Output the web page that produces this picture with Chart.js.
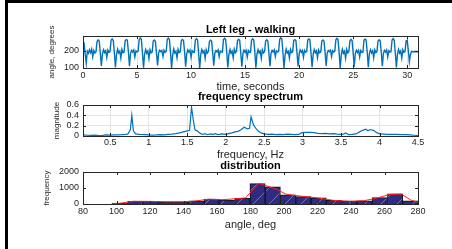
<!DOCTYPE html>
<html>
<head>
<meta charset="utf-8">
<script src="https://cdn.jsdelivr.net/npm/chart.js@4.4.1/dist/chart.umd.min.js"></script>
<style>
  body { margin: 0; background: #fff; width: 452px; height: 249px; overflow: hidden; position: relative; }
  canvas { position: absolute; left: 10px; }
  .edge { position: absolute; background: #000; }
</style>
</head>
<body>
<div class="edge" style="left:5px;top:0;width:447px;height:3px"></div>
<div class="edge" style="left:5px;top:0;width:3px;height:249px"></div>
<canvas id="legChart" width="430" height="80" style="top:15px"></canvas>
<canvas id="specChart" width="430" height="75" style="top:88px"></canvas>
<canvas id="distChart" width="430" height="76" style="top:159px"></canvas>
<script>
// ---- data ----
var sampleStep = 0.1; // seconds between samples
var legAngle = [
  250, 246, 182, 128, 198, 186, 206, 190, 210, 166, 202, 188,
  194, 255, 264, 258, 188, 112, 182, 206, 190, 201, 162, 204, 191,
  196, 262, 270, 261, 192, 104, 178, 210, 188, 198, 158, 208, 189,
  192, 259, 266, 263, 196, 110, 186, 203, 193, 205, 165, 200, 194,
  197, 265, 276, 268, 189, 102, 181, 207, 186, 199, 155, 206, 188,
  193, 257, 263, 256, 187, 115, 189, 204, 195, 202, 168, 203, 192,
  198, 268, 275, 266, 190, 101, 177, 211, 187, 197, 160, 209, 190,
  195, 260, 267, 260, 194, 108, 184, 205, 192, 204, 163, 201, 193,
  191, 263, 272, 264, 186, 100, 180, 208, 189, 200, 157, 207, 187,
  196, 256, 262, 257, 191, 113, 188, 202, 194, 206, 166, 199, 195,
  193, 266, 274, 267, 193, 103, 179, 209, 186, 198, 159, 210, 189,
  197, 261, 268, 262, 188, 107, 185, 204, 191, 203, 164, 202, 192,
  192, 264, 271, 263, 195, 102, 182, 207, 188, 199, 156, 206, 188,
  195, 258, 265, 259, 189, 111, 187, 203, 193, 205, 167, 200, 194,
  198, 267, 277, 269, 192, 100, 176, 210, 187, 197, 158, 208, 190,
  194, 260, 266, 261, 190, 109, 184, 205, 192, 202, 163, 203, 192,
  196, 263, 270, 264, 187, 104, 181, 208, 189, 200, 160, 205, 189,
  193, 257, 264, 258, 193, 112, 188, 202, 195, 204, 166, 201, 193,
  197, 265, 273, 266, 190, 101, 178, 209, 186, 198, 157, 209, 188,
  195, 259, 267, 260, 188, 108, 186, 204, 191, 203, 164, 202, 192,
  192, 262, 269, 263, 194, 105, 183, 206, 188, 201, 159, 206, 190,
  196, 258, 265, 259, 191, 110, 185, 203, 193, 205, 165, 201, 193,
  194, 264, 272, 262, 189, 103, 180, 208, 187, 199, 158, 207, 191,
  196, 258, 262, 205, 137, 178, 196, 195, 194, 196, 195, 194, 195
];
var timeTicks = [0, 5, 10, 15, 20, 25, 30];
var angleTicks = [100, 200];

var specFreq = [0.15, 0.2, 0.25, 0.3, 0.35, 0.4, 0.45, 0.5, 0.55, 0.6, 0.65, 0.7, 0.73, 0.76, 0.78, 0.8, 0.83, 0.88, 0.95, 1.0,
  1.05, 1.1, 1.15, 1.2, 1.25, 1.3, 1.35, 1.4, 1.45, 1.5, 1.53, 1.556, 1.58, 1.6, 1.63, 1.67, 1.7, 1.73, 1.76, 1.8,
  1.83, 1.87, 1.9, 1.95, 2.0, 2.04, 2.08, 2.12, 2.16, 2.2, 2.24, 2.28, 2.31, 2.33, 2.36, 2.39, 2.42, 2.46, 2.5, 2.55,
  2.6, 2.65, 2.7, 2.75, 2.8, 2.85, 2.9, 2.95, 2.99, 3.05, 3.1, 3.15, 3.2, 3.25, 3.3, 3.35, 3.4, 3.45, 3.5, 3.53,
  3.56, 3.6, 3.65, 3.7, 3.74, 3.78, 3.82, 3.85, 3.88, 3.92, 3.96, 4.0, 4.05, 4.1, 4.2, 4.3, 4.35, 4.4, 4.45, 4.5];
var specMag = [0.02, 0.015, 0.012, 0.015, 0.01, 0.012, 0.02, 0.018, 0.02, 0.022, 0.025, 0.03, 0.04, 0.12, 0.40, 0.1, 0.04, 0.03, 0.025, 0.02,
  0.018, 0.02, 0.025, 0.022, 0.03, 0.035, 0.045, 0.06, 0.08, 0.10, 0.11, 0.555, 0.3, 0.12, 0.1, 0.05, 0.03, 0.045, 0.025, 0.04,
  0.03, 0.045, 0.025, 0.04, 0.03, 0.045, 0.06, 0.08, 0.09, 0.12, 0.17, 0.14, 0.15, 0.37, 0.22, 0.15, 0.1, 0.06, 0.04, 0.03,
  0.035, 0.025, 0.03, 0.025, 0.035, 0.03, 0.025, 0.03, 0.065, 0.07, 0.07, 0.065, 0.05, 0.045, 0.05, 0.04, 0.045, 0.035, 0.03, 0.035,
  0.06, 0.025, 0.03, 0.045, 0.08, 0.11, 0.13, 0.1, 0.125, 0.11, 0.07, 0.04, 0.035, 0.03, 0.03, 0.025, 0.025, 0.02, 0.015, 0.01];
var freqTicks = [0.5, 1, 1.5, 2, 2.5, 3, 3.5, 4, 4.5];
var magTicks = [0, 0.2, 0.4, 0.6];

var binCenters = [102.1, 111.2, 120.3, 129.4, 138.6, 147.7, 156.8, 165.9, 175.1, 184.2,
  193.3, 202.4, 211.6, 220.7, 229.8, 238.9, 248.1, 257.2, 266.3, 275.4];
var binCounts = [50, 170, 160, 130, 130, 190, 310, 250, 350, 1270,
  1080, 580, 460, 390, 230, 180, 200, 400, 630, 200];
var fitAngle = [97, 103, 110, 120, 130, 140, 148, 155, 163, 170, 177, 185, 190, 196, 201, 206, 212, 220, 230, 240, 248, 256, 263, 270, 276, 280];
var fitCount = [0, 60, 170, 165, 140, 140, 200, 300, 270, 320, 380, 1280, 1120, 900, 620, 540, 470, 380, 220, 170, 210, 380, 600, 620, 230, 120];
var degTicks = [80, 100, 120, 140, 160, 180, 200, 220, 240, 260, 280];
var countTicks = [0, 1000, 2000];

// ---- shared bits ----
var FONT = '"Liberation Sans", Arial, Helvetica, sans-serif';
var TXT = '#262626';

var matlabBox = {
  id: 'matlabBox',
  afterDraw: function (chart) {
    var ctx = chart.ctx, a = chart.chartArea, sx = chart.scales.x, sy = chart.scales.y;
    var len = 3;
    ctx.save();
    ctx.strokeStyle = TXT;
    ctx.lineWidth = 1;
    ctx.beginPath();
    sx.ticks.forEach(function (t) {
      var px = Math.round(sx.getPixelForValue(t.value)) + 0.5;
      ctx.moveTo(px, a.bottom); ctx.lineTo(px, a.bottom - len);
      ctx.moveTo(px, a.top); ctx.lineTo(px, a.top + len);
    });
    sy.ticks.forEach(function (t) {
      var py = Math.round(sy.getPixelForValue(t.value)) + 0.5;
      ctx.moveTo(a.left, py); ctx.lineTo(a.left + len, py);
      ctx.moveTo(a.right, py); ctx.lineTo(a.right - len, py);
    });
    ctx.stroke();
    ctx.strokeRect(Math.round(a.left) + 0.5, Math.round(a.top) + 0.5, Math.round(a.right - a.left), Math.round(a.bottom - a.top));
    ctx.restore();
  }
};

function fixTicks(list) {
  return function (axis) { axis.ticks = list.map(function (v) { return { value: v }; }); };
}

function xAxis(min, max, list, label, h, tickPad, titlePad, grid) {
  return {
    type: 'linear', min: min, max: max, offset: false,
    afterBuildTicks: fixTicks(list),
    afterFit: function (s) { s.height = h; },
    grid: { display: grid, color: '#e4e4e4', drawTicks: false, offset: false },
    border: { display: false },
    ticks: { font: { family: FONT, size: 9 }, color: TXT, padding: tickPad, maxRotation: 0, autoSkip: false,
      callback: function (v) { return String(v); } },
    title: { display: true, text: label, font: { family: FONT, size: 11 }, color: TXT, padding: { top: 0, bottom: titlePad } }
  };
}

function yAxis(min, max, list, label, titlePad, grid) {
  return {
    type: 'linear', min: min, max: max,
    afterBuildTicks: fixTicks(list),
    afterFit: function (s) { s.width = 73; },
    grid: { display: grid, color: '#e4e4e4', drawTicks: false },
    border: { display: false },
    ticks: { font: { family: FONT, size: 9 }, color: TXT, padding: 4, autoSkip: false,
      callback: function (v) { return String(v); } },
    title: { display: true, text: label, font: { family: FONT, size: 8 }, color: TXT, padding: { top: titlePad, bottom: 0 } }
  };
}

function titleOpt(text, pt, pb) {
  return { display: true, text: text, fullSize: false, color: '#000',
    font: { family: FONT, size: 11, weight: 'bold', lineHeight: 1 }, padding: { top: pt, bottom: pb } };
}

var baseOpts = {
  responsive: false, animation: false, devicePixelRatio: 1,
  layout: { padding: { left: 0, right: 22, top: 0, bottom: 0 } }
};

// ---- time series ----
var legPoints = legAngle.map(function (v, i) { return { x: i * sampleStep, y: v }; });
new Chart(document.getElementById('legChart'), {
  type: 'line',
  data: { datasets: [{ data: legPoints, borderColor: '#0072BD', borderWidth: 1.4, pointRadius: 0, tension: 0 }] },
  options: Object.assign({}, baseOpts, {
    plugins: { legend: { display: false }, tooltip: { enabled: false }, title: titleOpt('Left leg - walking', 9.5, 0.5) },
    scales: { x: xAxis(0, 31, timeTicks, 'time, seconds', 27, 2, 1.4, true), y: yAxis(100, 287, angleTicks, 'angle, degrees', 37.2, true) }
  }),
  plugins: [matlabBox]
});

// ---- spectrum ----
var specPoints = specFreq.map(function (f, i) { return { x: f, y: specMag[i] }; });
new Chart(document.getElementById('specChart'), {
  type: 'line',
  data: { datasets: [{ data: specPoints, borderColor: '#0072BD', borderWidth: 1.2, pointRadius: 0, tension: 0 }] },
  options: Object.assign({}, baseOpts, {
    plugins: { legend: { display: false }, tooltip: { enabled: false }, title: titleOpt('frequency spectrum', 3.5, 2.5) },
    scales: { x: xAxis(0.145, 4.5, freqTicks, 'frequency, Hz', 27, 1.6, 1.9, true), y: yAxis(0, 0.6, magTicks, 'magnitude', 42.2, true) }
  }),
  plugins: [matlabBox]
});

// ---- distribution ----
var tile = document.createElement('canvas');
tile.width = 16; tile.height = 16;
var tc = tile.getContext('2d');
tc.fillStyle = '#2E2B82';
tc.fillRect(0, 0, 16, 16);
tc.strokeStyle = 'rgba(200,200,235,0.45)';
tc.lineWidth = 1;
tc.beginPath(); tc.moveTo(0, 16); tc.lineTo(16, 0); tc.stroke();
var hatch = tc.createPattern(tile, 'repeat');

new Chart(document.getElementById('distChart'), {
  type: 'bar',
  data: {
    datasets: [
      { type: 'line', data: fitAngle.map(function (a, i) { return { x: a, y: fitCount[i] }; }),
        borderColor: '#ff2020', borderWidth: 1, pointRadius: 0, tension: 0, order: 0 },
      { type: 'bar', data: binCenters.map(function (c, i) { return { x: c, y: binCounts[i] }; }),
        backgroundColor: hatch, borderColor: '#111', borderWidth: 1, barPercentage: 1, categoryPercentage: 1, order: 1 }
    ]
  },
  options: Object.assign({}, baseOpts, {
    plugins: { legend: { display: false }, tooltip: { enabled: false }, title: titleOpt('distribution', 1.5, 0.5) },
    scales: { x: xAxis(80, 280, degTicks, 'angle, deg', 31, 2.6, 3.4, false), y: yAxis(0, 2000, countTicks, 'frequency', 32.2, false) }
  }),
  plugins: [matlabBox]
});
</script>
</body>
</html>
